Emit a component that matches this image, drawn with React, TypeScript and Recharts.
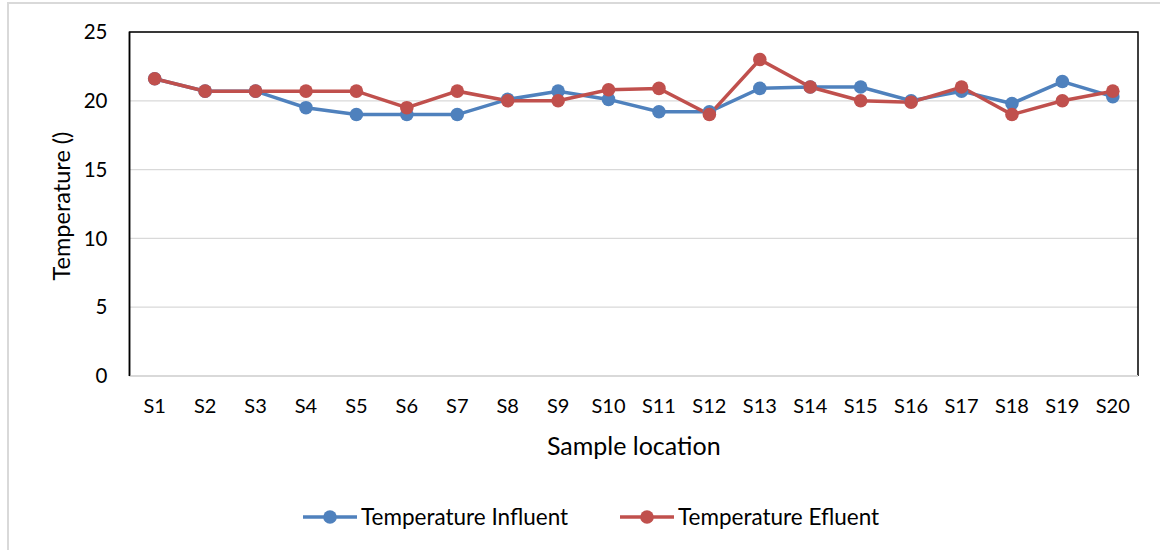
import React from "react";
import { CartesianGrid, Label, Line, LineChart, XAxis, YAxis, usePlotArea } from "recharts";

const locations = [
  "S1", "S2", "S3", "S4", "S5", "S6", "S7", "S8", "S9", "S10",
  "S11", "S12", "S13", "S14", "S15", "S16", "S17", "S18", "S19", "S20",
];
const influent = [
  21.6, 20.7, 20.7, 19.5, 19.0, 19.0, 19.0, 20.1, 20.7, 20.1,
  19.2, 19.2, 20.9, 21.0, 21.0, 20.0, 20.7, 19.8, 21.4, 20.3,
];
const efluent = [
  21.6, 20.7, 20.7, 20.7, 20.7, 19.5, 20.7, 20.0, 20.0, 20.8,
  20.9, 19.0, 23.0, 21.0, 20.0, 19.9, 21.0, 19.0, 20.0, 20.7,
];
const yTicks = [0, 5, 10, 15, 20, 25];

const series = [
  { key: "influent", name: "Temperature Influent", color: "#4F81BD" },
  { key: "efluent", name: "Temperature Efluent", color: "#C0504D" },
];

const data = locations.map((name, i) => ({
  name,
  influent: influent[i],
  efluent: efluent[i],
}));

const font = "Lato, 'Open Sans', sans-serif";
const halfBand = 25.2;

// black plot-area border (top, left, right); bottom is the grey x axis line
function PlotFrame() {
  const area = usePlotArea();
  if (!area) return null;
  const { x, y, width, height } = area;
  return (
    <path
      d={`M${x},${y + height} L${x},${y} L${x + width},${y} L${x + width},${y + height}`}
      fill="none"
      stroke="#000"
      strokeWidth={1.5}
    />
  );
}

function LegendItem({ color, name, left }: { color: string; name: string; left: number }) {
  return (
    <div style={{ position: "absolute", left, top: 0, display: "flex", alignItems: "center", whiteSpace: "nowrap" }}>
      <svg width={54} height={20} style={{ marginRight: 4 }}>
        <line x1={0} y1={10} x2={54} y2={10} stroke={color} strokeWidth={3.5} />
        <circle cx={27} cy={10} r={6.8} fill={color} />
      </svg>
      <span style={{ fontFamily: font, fontSize: 22.5, color: "#000" }}>{name}</span>
    </div>
  );
}

export default function App() {
  return (
    <div style={{ position: "absolute", left: 0, top: 0, width: 1160, height: 550, overflow: "hidden", background: "#fff" }}>
      <div
        style={{
          position: "absolute",
          left: 7,
          top: 2,
          width: 1160,
          height: 560,
          borderLeft: "2px solid #D9D9D9",
          borderTop: "2px solid #D9D9D9",
        }}
      />
      <div style={{ position: "absolute", left: 0, top: 0 }}>
        <LineChart width={1160} height={550} data={data} margin={{ top: 32, right: 22, bottom: 94, left: 10 }}>
          <CartesianGrid vertical={false} stroke="#D9D9D9" strokeWidth={1.3} />
          <XAxis
            dataKey="name"
            padding={{ left: halfBand, right: halfBand }}
            stroke="#D9D9D9"
            strokeWidth={2}
            tickLine={false}
            tickSize={0}
            tickMargin={23}
            height={80}
            interval={0}
            tick={{ fill: "#000", fontSize: 20, fontFamily: font }}
          >
            <Label
              value="Sample location"
              position="insideBottom"
              offset={1}
              style={{ fill: "#000", fontSize: 25, fontFamily: font }}
            />
          </XAxis>
          <YAxis
            domain={[0, 25]}
            ticks={yTicks}
            width={119.5}
            stroke="#000"
            strokeWidth={1.5}
            tickLine={false}
            tickSize={0}
            tickMargin={22}
            tick={{ fill: "#000", fontSize: 20.5, fontFamily: font }}
          >
            <Label
              content={({ viewBox }: any) => {
                const cx = viewBox.x + 51;
                const cy = viewBox.y + viewBox.height / 2 + 2;
                return (
                  <text
                    x={cx}
                    y={cy}
                    transform={`rotate(-90, ${cx}, ${cy})`}
                    textAnchor="middle"
                    dominantBaseline="central"
                    style={{ fill: "#000", fontSize: 23.5, fontFamily: font }}
                  >
                    Temperature ()
                  </text>
                );
              }}
            />
          </YAxis>
          <PlotFrame />
          {series.map((s) => (
            <Line
              key={s.key}
              dataKey={s.key}
              name={s.name}
              stroke={s.color}
              strokeWidth={3.5}
              dot={{ r: 6.8, fill: s.color, stroke: s.color, strokeWidth: 0 }}
              activeDot={false}
              isAnimationActive={false}
            />
          ))}
        </LineChart>
      </div>
      <div style={{ position: "absolute", left: 0, top: 503, width: 1160, height: 24 }}>
        <LegendItem color={series[0].color} name={series[0].name} left={303} />
        <LegendItem color={series[1].color} name={series[1].name} left={620} />
      </div>
    </div>
  );
}
